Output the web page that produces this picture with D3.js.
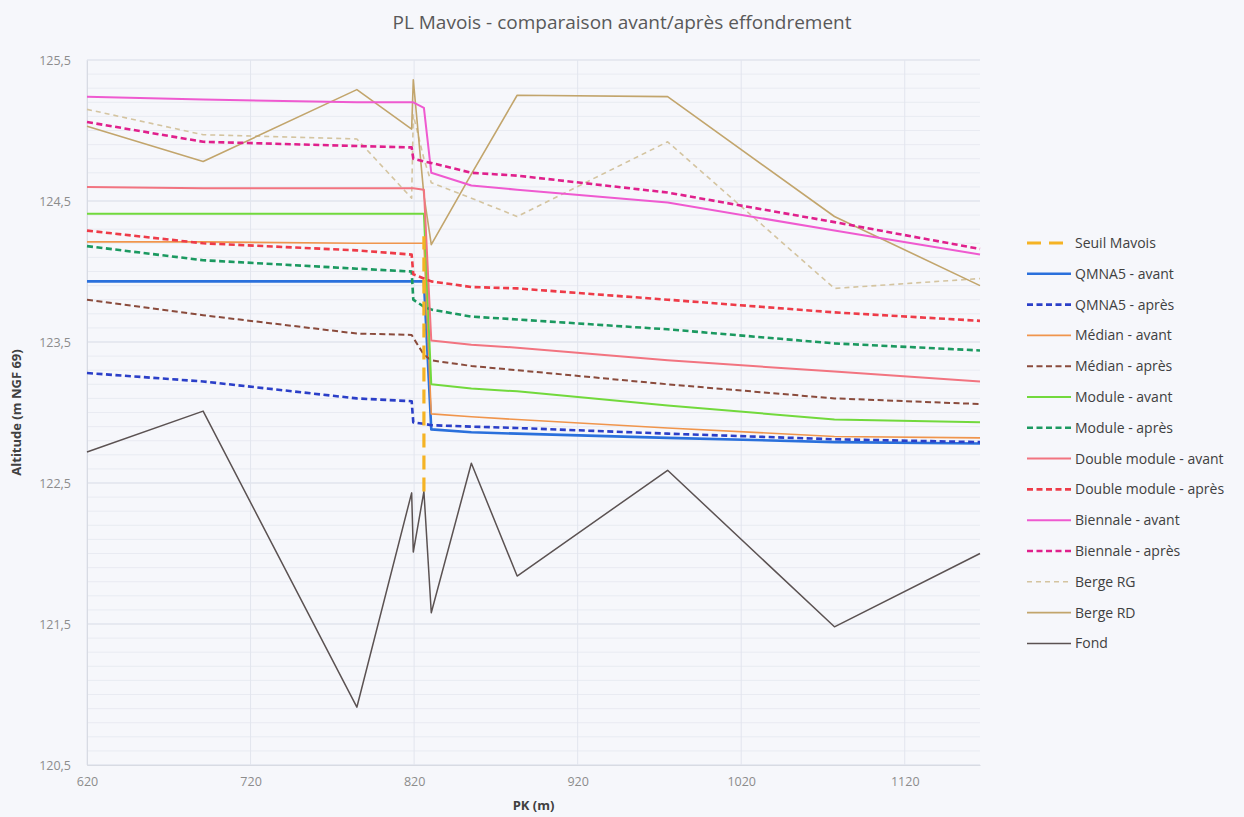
<!DOCTYPE html>
<html>
<head>
<meta charset="utf-8">
<script src="https://cdn.jsdelivr.net/npm/d3@7"></script>
<style>
  html, body { margin: 0; padding: 0; background: #f6f7fb; }
  svg { display: block; }
  text { font-family: "Open Sans", "Liberation Sans", sans-serif; }
</style>
</head>
<body>
<svg id="chart" width="1244" height="817"></svg>
<script>
// ---- Data ----
const pk = [620, 691, 785, 818.5, 819.5, 826, 830.5, 855, 883, 975, 1077, 1166];

const qmna5Avant    = [123.93, 123.93, 123.93, 123.93, 123.93, 123.93, 122.88, 122.86, 122.85, 122.82, 122.79, 122.78];
const qmna5Apres    = [123.28, 123.22, 123.10, 123.08, 122.93, 122.92, 122.91, 122.90, 122.89, 122.85, 122.81, 122.79];
const medianAvant   = [124.21, 124.21, 124.20, 124.20, 124.20, 124.20, 122.99, 122.97, 122.95, 122.89, 122.83, 122.82];
const medianApres   = [123.80, 123.69, 123.56, 123.55, 123.53, 123.41, 123.37, 123.33, 123.30, 123.20, 123.10, 123.06];
const moduleAvant   = [124.41, 124.41, 124.41, 124.41, 124.41, 124.41, 123.20, 123.17, 123.15, 123.05, 122.95, 122.93];
const moduleApres   = [124.18, 124.08, 124.02, 124.00, 123.80, 123.75, 123.73, 123.68, 123.66, 123.59, 123.49, 123.44];
const doubleAvant   = [124.60, 124.59, 124.59, 124.59, 124.59, 124.58, 123.51, 123.48, 123.46, 123.37, 123.29, 123.22];
const doubleApres   = [124.29, 124.20, 124.15, 124.12, 123.98, 123.95, 123.93, 123.89, 123.88, 123.80, 123.71, 123.65];
const biennaleAvant = [125.24, 125.22, 125.20, 125.20, 125.20, 125.16, 124.70, 124.61, 124.58, 124.49, 124.29, 124.12];
const biennaleApres = [125.06, 124.92, 124.89, 124.88, 124.80, 124.78, 124.77, 124.70, 124.68, 124.56, 124.35, 124.16];
const bergeRG       = [125.15, 124.97, 124.94, 124.52, 125.11, 124.80, 124.63, 124.52, 124.39, 124.92, 123.88, 123.95];
const bergeRD       = [125.03, 124.78, 125.29, 125.01, 125.36, 124.54, 124.19, 124.69, 125.25, 125.24, 124.39, 123.90];
const fond          = [122.72, 123.01, 120.91, 122.43, 122.01, 122.44, 121.58, 122.64, 121.84, 122.59, 121.48, 122.00];

const seuilPK = [826, 826];
const seuilZ  = [122.44, 124.25];

const xTicks = [620, 720, 820, 920, 1020, 1120];
const yTicks = [120.5, 121.5, 122.5, 123.5, 124.5, 125.5];

const title = "PL Mavois - comparaison avant/après effondrement";
const xTitle = "PK (m)";
const yTitle = "Altitude (m NGF 69)";

// ---- Series styling ----
const series = [
  { name: "Seuil Mavois",          x: seuilPK, y: seuilZ,       color: "#f5b324", width: 3.2, dash: "14,8" },
  { name: "QMNA5 - avant",         x: pk, y: qmna5Avant,        color: "#2a70dc", width: 2.6, dash: null },
  { name: "QMNA5 - après",         x: pk, y: qmna5Apres,        color: "#2b3fc8", width: 2.6, dash: "6,3.5" },
  { name: "Médian - avant",        x: pk, y: medianAvant,       color: "#f0954c", width: 1.6, dash: null },
  { name: "Médian - après",        x: pk, y: medianApres,       color: "#8a4b3c", width: 2,   dash: "6,3.5" },
  { name: "Module - avant",        x: pk, y: moduleAvant,       color: "#72d93c", width: 2,   dash: null },
  { name: "Module - après",        x: pk, y: moduleApres,       color: "#1b9960", width: 2.6, dash: "6,3.5" },
  { name: "Double module - avant", x: pk, y: doubleAvant,       color: "#f27480", width: 2,   dash: null },
  { name: "Double module - après", x: pk, y: doubleApres,       color: "#ee3b48", width: 2.6, dash: "6,3.5" },
  { name: "Biennale - avant",      x: pk, y: biennaleAvant,     color: "#ef5ad0", width: 2,   dash: null },
  { name: "Biennale - après",      x: pk, y: biennaleApres,     color: "#e0208c", width: 2.6, dash: "6,3.5" },
  { name: "Berge RG",              x: pk, y: bergeRG,           color: "#d4c4a0", width: 1.6, dash: "5,4" },
  { name: "Berge RD",              x: pk, y: bergeRD,           color: "#c2a56c", width: 1.6, dash: null },
  { name: "Fond",                  x: pk, y: fond,              color: "#5b5252", width: 1.5, dash: null }
];

// ---- Layout ----
const plot = { left: 87, right: 980, top: 60, bottom: 765 };
const svg = d3.select("#chart");

const x = d3.scaleLinear().domain([620, 1166]).range([plot.left, plot.right]);
const y = d3.scaleLinear().domain([120.5, 125.5]).range([plot.bottom, plot.top]);

// minor horizontal grid every 0.1
const minor = d3.range(120.5, 125.5001, 0.1);
svg.append("g").selectAll("line").data(minor).join("line")
  .attr("x1", plot.left).attr("x2", plot.right)
  .attr("y1", d => y(d)).attr("y2", d => y(d))
  .attr("stroke", "#e9ebf2").attr("stroke-width", 1);

// major horizontal grid
svg.append("g").selectAll("line").data(yTicks).join("line")
  .attr("x1", plot.left).attr("x2", plot.right)
  .attr("y1", d => y(d)).attr("y2", d => y(d))
  .attr("stroke", "#dde1ea").attr("stroke-width", 1);

// vertical grid
svg.append("g").selectAll("line").data(xTicks).join("line")
  .attr("x1", d => x(d)).attr("x2", d => x(d))
  .attr("y1", plot.top).attr("y2", plot.bottom)
  .attr("stroke", "#e2e5ee").attr("stroke-width", 1);

// axes via d3
const fmt = d => d3.format(".1f")(d).replace(".", ",");
const yAxis = svg.append("g").attr("transform", `translate(${plot.left},0)`)
  .call(d3.axisLeft(y).tickValues(yTicks).tickFormat(fmt).tickSize(0).tickPadding(16));
yAxis.select(".domain").attr("stroke", "#d8dbe3");
yAxis.selectAll("text").attr("fill", "#8c8c8c").style("font-size", "12.5px");

const xAxis = svg.append("g").attr("transform", `translate(0,${plot.bottom})`)
  .call(d3.axisBottom(x).tickValues(xTicks).tickFormat(d3.format("d")).tickSize(0).tickPadding(12));
xAxis.select(".domain").attr("stroke", "#d8dbe3");
xAxis.selectAll("text").attr("fill", "#8c8c8c").style("font-size", "12.5px");

// lines
const line = d3.line().x(d => x(d[0])).y(d => y(d[1]));
const drawOrder = ["Fond", "Berge RG", "Berge RD", "QMNA5 - avant", "QMNA5 - après", "Médian - avant", "Médian - après",
  "Module - avant", "Module - après", "Double module - avant", "Double module - après", "Biennale - avant", "Biennale - après", "Seuil Mavois"];
drawOrder.forEach(n => {
  const s = series.find(v => v.name === n);
  const pts = s.x.map((v, i) => [v, s.y[i]]);
  svg.append("path").datum(pts)
    .attr("d", line)
    .attr("fill", "none")
    .attr("stroke", s.color)
    .attr("stroke-width", s.width)
    .attr("stroke-dasharray", s.dash)
    .attr("stroke-linejoin", "round");
});

// title
svg.append("text").attr("x", 622).attr("y", 29).attr("text-anchor", "middle")
  .attr("fill", "#595959").style("font-size", "19px").text(title);

// axis titles
svg.append("text").attr("x", (plot.left + plot.right) / 2).attr("y", 810).attr("text-anchor", "middle")
  .attr("fill", "#404040").style("font-size", "13px").style("font-weight", "bold").text(xTitle);
svg.append("text").attr("transform", `translate(21,${(plot.top + plot.bottom) / 2}) rotate(-90)`)
  .attr("text-anchor", "middle")
  .attr("fill", "#404040").style("font-size", "13px").style("font-weight", "bold").text(yTitle);

// legend
const legend = svg.append("g");
series.forEach((s, i) => {
  const ly = 243 + i * 30.8;
  legend.append("line").attr("x1", 1027).attr("x2", 1071).attr("y1", ly).attr("y2", ly)
    .attr("stroke", s.color).attr("stroke-width", s.width).attr("stroke-dasharray", s.dash);
  legend.append("text").attr("x", 1075).attr("y", ly + 5)
    .attr("fill", "#404040").style("font-size", "14px").text(s.name);
});
</script>
</body>
</html>
